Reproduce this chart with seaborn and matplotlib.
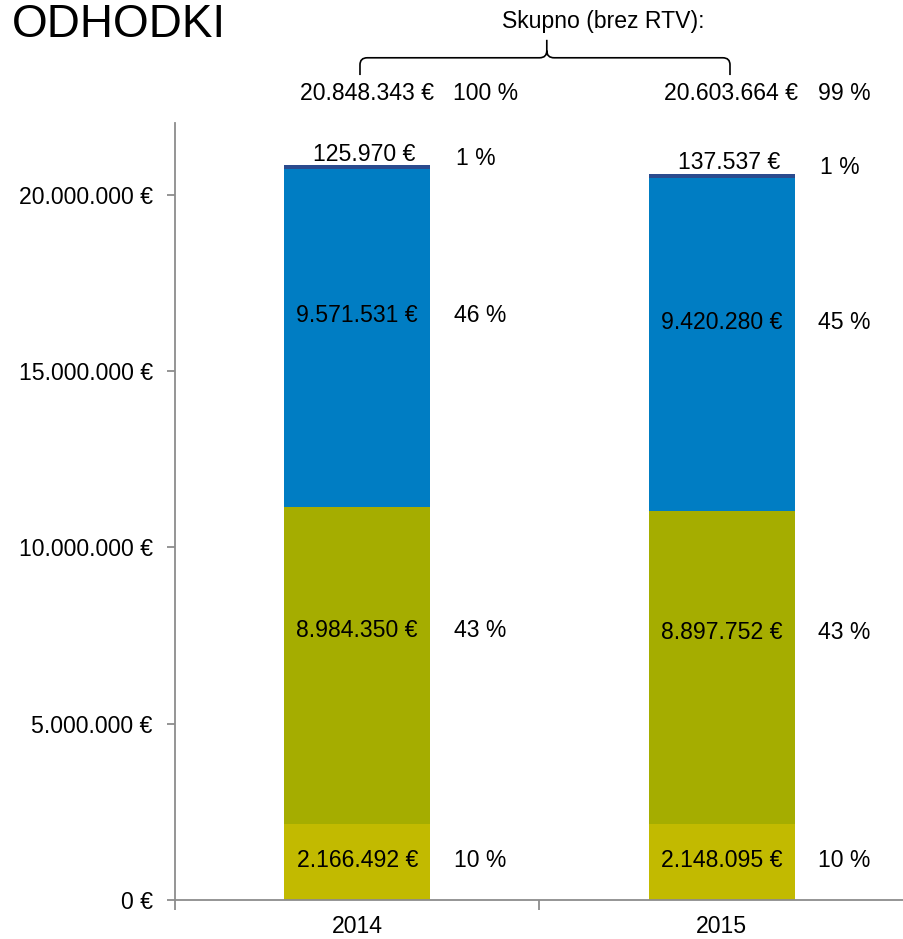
import matplotlib
matplotlib.use("Agg")
import matplotlib.pyplot as plt
from matplotlib.path import Path
from matplotlib.patches import PathPatch
from matplotlib.ticker import FuncFormatter, FixedLocator
import seaborn as sns
import numpy as np

# ---- data ----
years = ["2014", "2015"]
seg_bottom = [2166492, 2148095]
seg_olive = [8984350, 8897752]
seg_blue = [9571531, 9420280]
seg_top = [125970, 137537]
pct_bottom = [10, 10]
pct_olive = [43, 43]
pct_blue = [46, 45]
pct_top = [1, 1]
totals = [20848343, 20603664]
pct_totals = [100, 99]
title = "ODHODKI"
brace_label = "Skupno (brez RTV):"
y_ticks = [0, 5000000, 10000000, 15000000, 20000000]

# ---- style ----
colors = ["#C2BA00", "#A5AD00", "#007DC3", "#2B4B8E"]
sns.set_theme(style="white")
plt.rcParams["font.family"] = ["Liberation Sans", "DejaVu Sans"]
plt.rcParams["text.color"] = "black"
FS = 16.6
spine_col = "#8C8C8C"

def fmt(v):
    return f"{int(v):,}".replace(",", ".") + " €"

fig = plt.figure(figsize=(9.04, 9.39), dpi=100)
ax = fig.add_axes([175/904, 39/939, 1 - 175/904, (900-123)/939])

segs = [seg_bottom, seg_olive, seg_blue, seg_top]
cums = np.cumsum(np.array(segs, dtype=float), axis=0)  # 4 x 2

# draw from tallest cumulative down so stacks appear
for i in range(3, -1, -1):
    sns.barplot(x=years, y=cums[i], color=colors[i], width=0.4,
                saturation=1, linewidth=0, errorbar=None, ax=ax)

ax.set_xlim(-0.5, 1.5)
ax.set_ylim(0, 22.04e6)

# axes styling
for s in ["top", "right"]:
    ax.spines[s].set_visible(False)
for s in ["left", "bottom"]:
    ax.spines[s].set_color(spine_col)
    ax.spines[s].set_linewidth(1.3)
ax.yaxis.set_major_locator(FixedLocator(y_ticks))
ax.yaxis.set_major_formatter(FuncFormatter(lambda v, p: fmt(v)))
ax.tick_params(axis="y", which="major", direction="out", length=6, width=1.3,
               color=spine_col, labelcolor="black", labelsize=FS, pad=10, left=True)
ax.tick_params(axis="x", which="major", length=0, labelsize=FS, labelcolor="black",
               pad=11, bottom=True)
ax.set_xticks([-0.5, 0.5, 1.5], minor=True)
ax.tick_params(axis="x", which="minor", direction="out", length=7, width=1.3,
               color=spine_col, bottom=True)
ax.set_xlabel("")
ax.set_ylabel("")
ax.grid(False)

M = 1e6
# segment labels
pcts = [pct_bottom, pct_olive, pct_blue, pct_top]
offsets = [0.05*M, 1.0*M, 0.63*M]
for j in range(2):
    base = 0.0
    for i in range(3):
        v = segs[i][j]
        yc = base + v/2 + offsets[i]
        ax.text(j, yc, fmt(v), ha="center", va="center", fontsize=FS, color="black")
        ax.text(j + 0.265, yc, f"{pcts[i][j]} %", ha="left", va="center",
                fontsize=FS, color="black")
        base += v
    # top segment label above bar
    ax.annotate(fmt(seg_top[j]), xy=(j + 0.02, totals[j]), xytext=(0, 3),
                textcoords="offset points", ha="center", va="baseline",
                fontsize=FS, color="black", annotation_clip=False)
    ax.annotate(f"{pct_top[j]} %", xy=(j + 0.27, totals[j]), xytext=(0, 0),
                textcoords="offset points", ha="left", va="baseline",
                fontsize=FS, color="black", annotation_clip=False)
    # totals
    ax.text(j + 0.21, 22.87*M, fmt(totals[j]), ha="right", va="center",
            fontsize=FS, color="black", clip_on=False)
    ax.text(j + 0.263, 22.87*M, f"{pct_totals[j]} %", ha="left", va="center",
            fontsize=FS, color="black", clip_on=False)

# brace
x0, x1, xm = 0.0075, 1.0226, 0.52
yend, yh, ytop = 23.40*M, 23.89*M, 24.40*M
rx, ry = 0.02, 0.2*M
verts = [(x0, yend), (x0, yh - ry), (x0, yh), (x0 + rx, yh), (xm - rx, yh),
         (xm, yh), (xm, yh + ry), (xm, ytop),
         (x1, yend), (x1, yh - ry), (x1, yh), (x1 - rx, yh), (xm + rx, yh),
         (xm, yh), (xm, yh + ry)]
codes = [Path.MOVETO, Path.LINETO, Path.CURVE3, Path.CURVE3, Path.LINETO,
         Path.CURVE3, Path.CURVE3, Path.LINETO,
         Path.MOVETO, Path.LINETO, Path.CURVE3, Path.CURVE3, Path.LINETO,
         Path.CURVE3, Path.CURVE3]
brace = PathPatch(Path(verts, codes), facecolor="none", edgecolor="black",
                  linewidth=1.2, clip_on=False)
ax.add_patch(brace)
ax.text(0.674, 24.91*M, brace_label, ha="center", va="center", fontsize=FS,
        color="black", clip_on=False)

fig.text(12/904, 1 - 25/939, title, ha="left", va="center", fontsize=33, color="black")

fig.savefig("out.png", dpi=100)
